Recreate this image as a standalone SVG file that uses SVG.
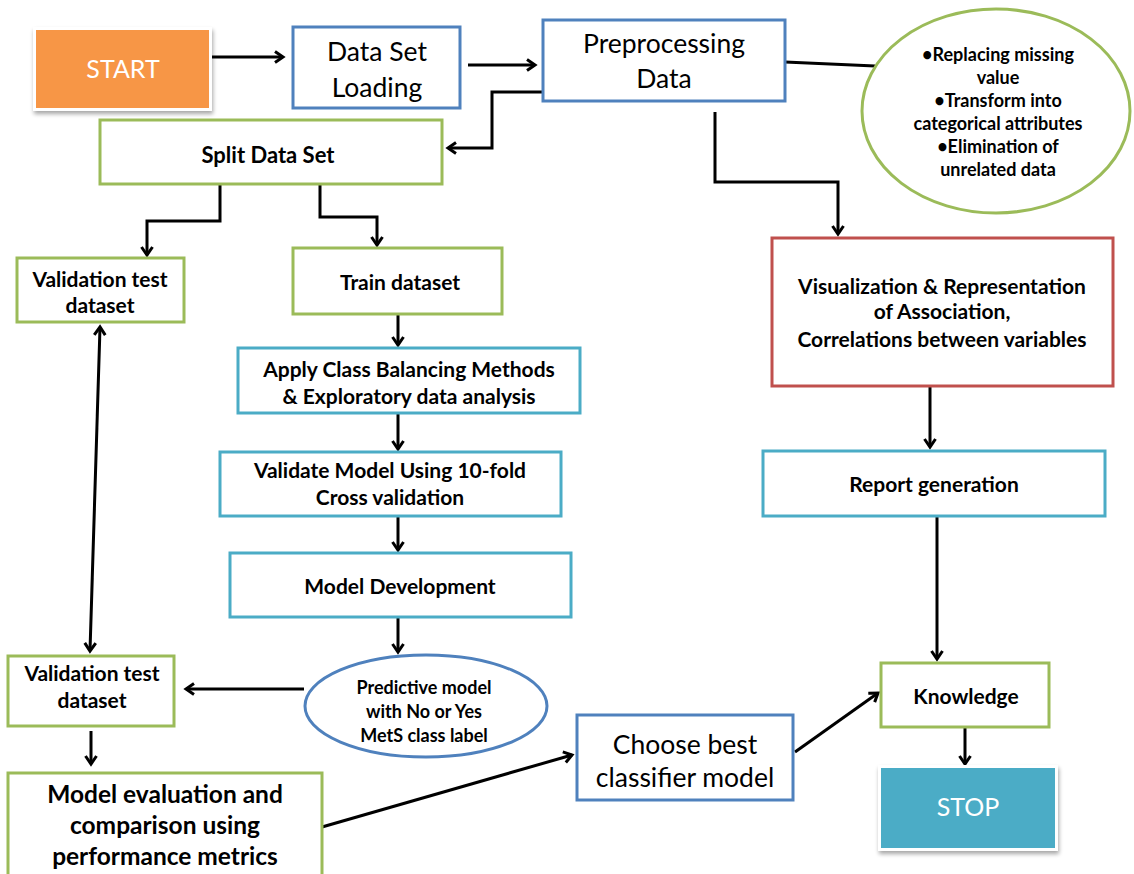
<svg xmlns="http://www.w3.org/2000/svg" width="1134" height="874" viewBox="0 0 1134 874">
<defs>
<marker id="ah" markerUnits="userSpaceOnUse" markerWidth="16" markerHeight="16" refX="11" refY="8" orient="auto-start-reverse">
<path d="M3,2.5 L11,8 L3,13.5" fill="none" stroke="#000" stroke-width="3"/>
</marker>
<filter id="sh" x="-10%" y="-10%" width="125%" height="130%">
<feGaussianBlur in="SourceAlpha" stdDeviation="2"/>
<feOffset dx="1" dy="3" result="b"/>
<feComponentTransfer><feFuncA type="linear" slope="0.35"/></feComponentTransfer>
<feMerge><feMergeNode/><feMergeNode in="SourceGraphic"/></feMerge>
</filter>
</defs>
<style>
text{font-family:Lato,"Open Sans","Liberation Sans",sans-serif;fill:#000;text-anchor:middle}
.b{font-weight:bold}
.blue{fill:#fff;stroke:#4F81BD;stroke-width:3}
.green{fill:#fff;stroke:#9BBB59;stroke-width:3}
.cyan{fill:#fff;stroke:#4BACC6;stroke-width:3}
.red{fill:#fff;stroke:#C0504D;stroke-width:3}
.big{font-size:26.5px}
.m{font-size:21px}
.s{font-size:18px}
.n{font-size:18px}
.conn{fill:none;stroke:#000;stroke-width:3}
</style>
<rect width="1134" height="874" fill="#fff"/>

<g id="connectors">
<path class="conn" d="M212,57 H283" marker-end="url(#ah)"/>
<path class="conn" d="M468,65 H535" marker-end="url(#ah)"/>
<path class="conn" d="M543,92 H492 V148 H448" marker-end="url(#ah)"/>
<path class="conn" d="M785,62 L875,66"/>
<path class="conn" d="M220,184 V221 H147 V255" marker-end="url(#ah)"/>
<path class="conn" d="M320,184 V217 H377 V245" marker-end="url(#ah)"/>
<path class="conn" d="M398,314 V345" marker-end="url(#ah)"/>
<path class="conn" d="M398,413 V449" marker-end="url(#ah)"/>
<path class="conn" d="M398,516 V550" marker-end="url(#ah)"/>
<path class="conn" d="M398,617 V652" marker-end="url(#ah)"/>
<path class="conn" d="M304,689 H186" marker-end="url(#ah)"/>
<path class="conn" d="M100,327 L90,651" marker-start="url(#ah)" marker-end="url(#ah)"/>
<path class="conn" d="M91,731 V764" marker-end="url(#ah)"/>
<path class="conn" d="M322,827 L572,755" marker-end="url(#ah)"/>
<path class="conn" d="M795,752 L878,693" marker-end="url(#ah)"/>
<path class="conn" d="M965,727 V764" marker-end="url(#ah)"/>
<path class="conn" d="M715,112 V182 H838 V234" marker-end="url(#ah)"/>
<path class="conn" d="M930,386 V447" marker-end="url(#ah)"/>
<path class="conn" d="M937,516 V659" marker-end="url(#ah)"/>
</g>

<g id="start">
<rect x="33" y="27" width="179" height="84" fill="#fff" filter="url(#sh)"/>
<rect x="36" y="30" width="173" height="78" fill="#F79646"/>
<text x="123" y="78" style="font-size:25px;fill:#fff">START</text>
</g>

<g id="dataset-loading">
<rect class="blue" x="293" y="27" width="167" height="81"/>
<text class="big" x="377" y="61">Data Set</text>
<text class="big" x="377" y="97">Loading</text>
</g>

<g id="preprocessing">
<rect class="blue" x="543" y="20" width="242" height="81"/>
<text class="big" x="664" y="53">Preprocessing</text>
<text class="big" x="664" y="88">Data</text>
</g>

<g id="preprocessing-notes">
<ellipse class="green" cx="996" cy="111" rx="134" ry="102"/>
<text class="b n" x="998" y="61">•Replacing missing</text>
<text class="b n" x="998" y="84">value</text>
<text class="b n" x="998" y="107">•Transform into</text>
<text class="b n" x="998" y="130">categorical attributes</text>
<text class="b n" x="998" y="153">•Elimination of</text>
<text class="b n" x="998" y="176">unrelated data</text>
</g>

<g id="split">
<rect class="green" x="100" y="120" width="342" height="64"/>
<text class="b" style="font-size:22px" x="268" y="163">Split Data Set</text>
</g>

<g id="validation-top">
<rect class="green" x="17" y="258" width="167" height="64"/>
<text class="b m" x="100" y="287">Validation test</text>
<text class="b m" x="100" y="313">dataset</text>
</g>

<g id="train">
<rect class="green" x="293" y="248" width="209" height="66"/>
<text class="b m" x="400" y="290">Train dataset</text>
</g>

<g id="class-balancing">
<rect class="cyan" x="238" y="348" width="342" height="65"/>
<text class="b m" x="409" y="377">Apply Class Balancing Methods</text>
<text class="b m" x="409" y="404">&amp; Exploratory data analysis</text>
</g>

<g id="validate-model">
<rect class="cyan" x="220" y="452" width="341" height="64"/>
<text class="b m" x="390" y="478">Validate Model Using 10-fold</text>
<text class="b m" x="390" y="505">Cross validation</text>
</g>

<g id="model-development">
<rect class="cyan" x="230" y="553" width="341" height="64"/>
<text class="b m" x="400" y="594">Model Development</text>
</g>

<g id="predictive-model">
<ellipse cx="426" cy="706" rx="121" ry="51" fill="#fff" stroke="#4F81BD" stroke-width="3"/>
<text class="b s" x="424" y="694">Predictive model</text>
<text class="b s" x="424" y="718">with No or Yes</text>
<text class="b s" x="424" y="742">MetS class label</text>
</g>

<g id="validation-bottom">
<rect class="green" x="8" y="656" width="166" height="70"/>
<text class="b m" x="92" y="681">Validation test</text>
<text class="b m" x="92" y="708">dataset</text>
</g>

<g id="model-evaluation">
<rect class="green" x="8" y="773" width="314" height="104"/>
<text class="b" style="font-size:24.5px" x="165" y="803">Model evaluation and</text>
<text class="b" style="font-size:24.5px" x="165" y="834">comparison using</text>
<text class="b" style="font-size:24.5px" x="165" y="865">performance metrics</text>
</g>

<g id="choose-best">
<rect class="blue" x="577" y="715" width="216" height="85"/>
<text class="big" x="685" y="754">Choose best</text>
<text class="big" x="685" y="787">classifier model</text>
</g>

<g id="visualization">
<rect class="red" x="772" y="238" width="341" height="148"/>
<text class="b m" x="942" y="294">Visualization &amp; Representation</text>
<text class="b m" x="942" y="319">of Association,</text>
<text class="b m" x="942" y="347">Correlations between variables</text>
</g>

<g id="report">
<rect class="cyan" x="763" y="451" width="342" height="65"/>
<text class="b m" x="934" y="492">Report generation</text>
</g>

<g id="knowledge">
<rect class="green" x="881" y="663" width="168" height="64"/>
<text class="b m" x="966" y="704">Knowledge</text>
</g>

<g id="stop">
<rect x="878" y="765" width="180" height="86" fill="#fff" filter="url(#sh)"/>
<rect x="881" y="768" width="174" height="80" fill="#4BACC6"/>
<text x="968" y="816" style="font-size:25px;fill:#fff">STOP</text>
</g>
</svg>
